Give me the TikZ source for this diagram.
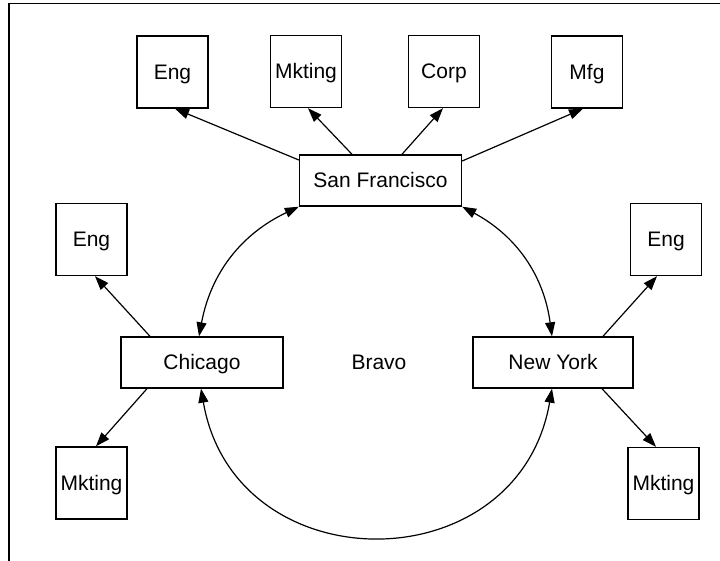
\documentclass[tikz,border=0pt]{standalone}
\usepackage{fontspec}
\setmainfont{Liberation Sans}
\usetikzlibrary{arrows.meta,calc}

\begin{document}
\begin{tikzpicture}[x=0.5pt,y=-0.5pt,
  font=\fontsize{10.5}{12}\selectfont,
  every node/.style={inner sep=0pt, text height=7.5pt, text depth=0pt},
  unitbox/.style={draw, line width=0.7pt, minimum width=35.5pt, minimum height=36pt},
  sitebox/.style={draw, line width=0.7pt, minimum width=81pt, minimum height=25.5pt},
  link/.style={line width=0.6pt, -{Triangle[length=7pt,width=5pt]}},
  dlink/.style={line width=0.6pt, {Triangle[length=7pt,width=5pt]}-{Triangle[length=7pt,width=5pt]}}]

  % page extent and the two visible sides of the frame
  \useasboundingbox (0,0) rectangle (720,561);
  \draw[line width=0.7pt] (720,3.5) -- (9,3.5) -- (9,561);

  % site offices
  \node[sitebox] (sf)  at (380.5,180.5) {San Francisco};
  \node[sitebox] (chi) at (202,362.5)   {Chicago};
  \node[sitebox, minimum width=80pt] (ny) at (553,362.5) {New York};
  \node (bravo) at (379,362.5) {Bravo};

  % departments
  \node[unitbox] (sfeng)  at (172.5,72) {Eng};
  \node[unitbox] (sfmkt)  at (306,71.5) {Mkting};
  \node[unitbox] (sfcorp) at (444,71.5) {Corp};
  \node[unitbox] (sfmfg)  at (587,72)   {Mfg};
  \node[unitbox] (chieng) at (91.5,239.5) {Eng};
  \node[unitbox] (chimkt) at (91.5,483)   {Mkting};
  \node[unitbox] (nyeng)  at (666,239.5)  {Eng};
  \node[unitbox] (nymkt)  at (663.5,483.5) {Mkting};

  % San Francisco to its departments
  \draw[link] ($(sf.west)+(0,-20.5)$) -- ($(sfeng.south)+(2.5,0)$);
  \draw[link] ($(sf.north)+(-28.5,0)$) -- ($(sfmkt.south)+(2,0)$);
  \draw[link] ($(sf.north)+(21.5,0)$) -- ($(sfcorp.south)+(-1,0)$);
  \draw[link] ($(sf.east)+(0,-19.5)$) -- ($(sfmfg.south)+(-4,0)$);

  % Chicago and New York to their departments
  \draw[link] ($(chi.north)+(-52,0)$) -- ($(chieng.south)+(3.5,0)$);
  \draw[link] ($(chi.south)+(-55,0)$) -- ($(chimkt.north)+(4.5,0)$);
  \draw[link] ($(ny.north)+(50,0)$) -- ($(nyeng.south)+(-9,0)$);
  \draw[link] ($(ny.south)+(49,0)$) -- ($(nymkt.north)+(-7.5,0)$);

  % ring between the sites
  \draw[dlink] (sf.south west) to[bend right=27] ($(chi.north)+(-3,0)$);
  \draw[dlink] (sf.south east) to[bend left=27] ($(ny.north)+(-1,0)$);
  \draw[dlink] ($(chi.south)+(-1,0)$) .. controls +(34,196) and +(-34,196) .. ($(ny.south)+(-1,0)$);
\end{tikzpicture}
\end{document}
